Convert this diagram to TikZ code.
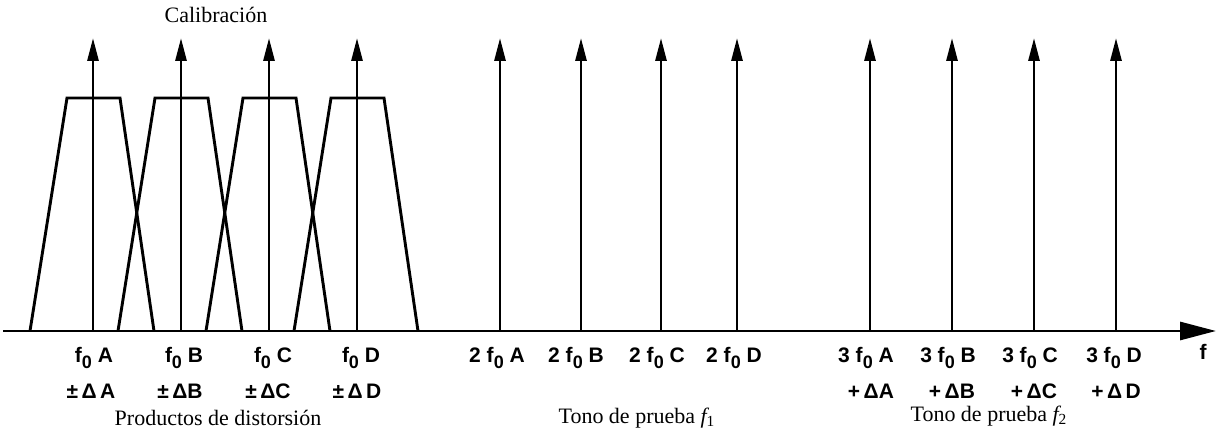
\documentclass[tikz,border=0pt]{standalone}
\usepackage{fontspec}
\setmainfont{Liberation Serif}
\newfontfamily\labfont{Liberation Sans}
\usetikzlibrary{arrows.meta}
\newcommand\zs{\raisebox{-0.55ex}{\fontsize{9}{9}\selectfont 0}}
\begin{document}
\begin{tikzpicture}[x=0.5pt,y=-0.5pt,
  ln/.style={line width=1.45pt,line join=miter},
  spike/.style={line width=1.45pt,-{Triangle[length=11.5pt,width=5.5pt]}},
  lbl/.style={font=\labfont\bfseries\fontsize{10.5}{12}\selectfont,inner sep=0pt},
  captxt/.style={font=\fontsize{11}{13}\selectfont,inner sep=0pt}]
\useasboundingbox (0,0) rectangle (1216,437);
% axis
\coordinate (o) at (3,331);
\coordinate (e) at (1216,331);
\draw[line width=1.45pt,-{Triangle[length=18pt,width=9pt]}] (o) -- (e);
% calibration spikes with trapezoids
\foreach \n/\x in {a/93,b/181,c/269,d/357}{
  \coordinate (c\n0) at (\x,331);
  \coordinate (c\n1) at (\x,38);
  \draw[spike] (c\n0) -- (c\n1);
  \draw[ln] ({\x-63},331) -- ({\x-26},98) -- ({\x+27},98) -- ({\x+61},331);
}
% second harmonic spikes
\foreach \n/\x in {a/500,b/581,c/661,d/737}{
  \coordinate (s\n0) at (\x,331);
  \coordinate (s\n1) at (\x,38);
  \draw[spike] (s\n0) -- (s\n1);
}
% third harmonic spikes
\foreach \n/\x in {a/870,b/952,c/1034,d/1116}{
  \coordinate (t\n0) at (\x,331);
  \coordinate (t\n1) at (\x,38);
  \draw[spike] (t\n0) -- (t\n1);
}
% labels
\node[lbl] (la) at (94,358) {f\zs\ A};
\node[lbl] (lb) at (184,358) {f\zs\ B};
\node[lbl] (lc) at (273,358) {f\zs\ C};
\node[lbl] (ld) at (361,358) {f\zs\ D};
\node[lbl] (pa) at (91,391) {±\,Δ\,A};
\node[lbl] (pb) at (180,391) {±\,ΔB};
\node[lbl] (pc) at (268,391) {±\,ΔC};
\node[lbl] (pd) at (357,391) {±\,Δ\,D};
\node[lbl] (ma) at (497,358) {2 f\zs\ A};
\node[lbl] (mb) at (576,358) {2 f\zs\ B};
\node[lbl] (mc) at (657,358) {2 f\zs\ C};
\node[lbl] (md) at (734,358) {2 f\zs\ D};
\node[lbl] (na) at (866,358) {3 f\zs\ A};
\node[lbl] (nb) at (948,358) {3 f\zs\ B};
\node[lbl] (nc) at (1030,358) {3 f\zs\ C};
\node[lbl] (nd) at (1114,358) {3 f\zs\ D};
\node[lbl] (qa) at (871,391) {+\,ΔA};
\node[lbl] (qb) at (952,391) {+\,ΔB};
\node[lbl] (qc) at (1034,391) {+\,ΔC};
\node[lbl] (qd) at (1116,391) {+\,Δ\,D};
\node[lbl] (fl) at (1203,352) {f};
% captions
\node[captxt] (cal) at (216,15) {Calibración};
\node[captxt] (pro) at (218,418) {Productos de distorsión};
\node[captxt] (t1) at (637,418) {Tono de prueba {\itshape f}\textsubscript{1}};
\node[captxt] (t2) at (989,416) {Tono de prueba {\itshape f}\textsubscript{2}};
\end{tikzpicture}
\end{document}
